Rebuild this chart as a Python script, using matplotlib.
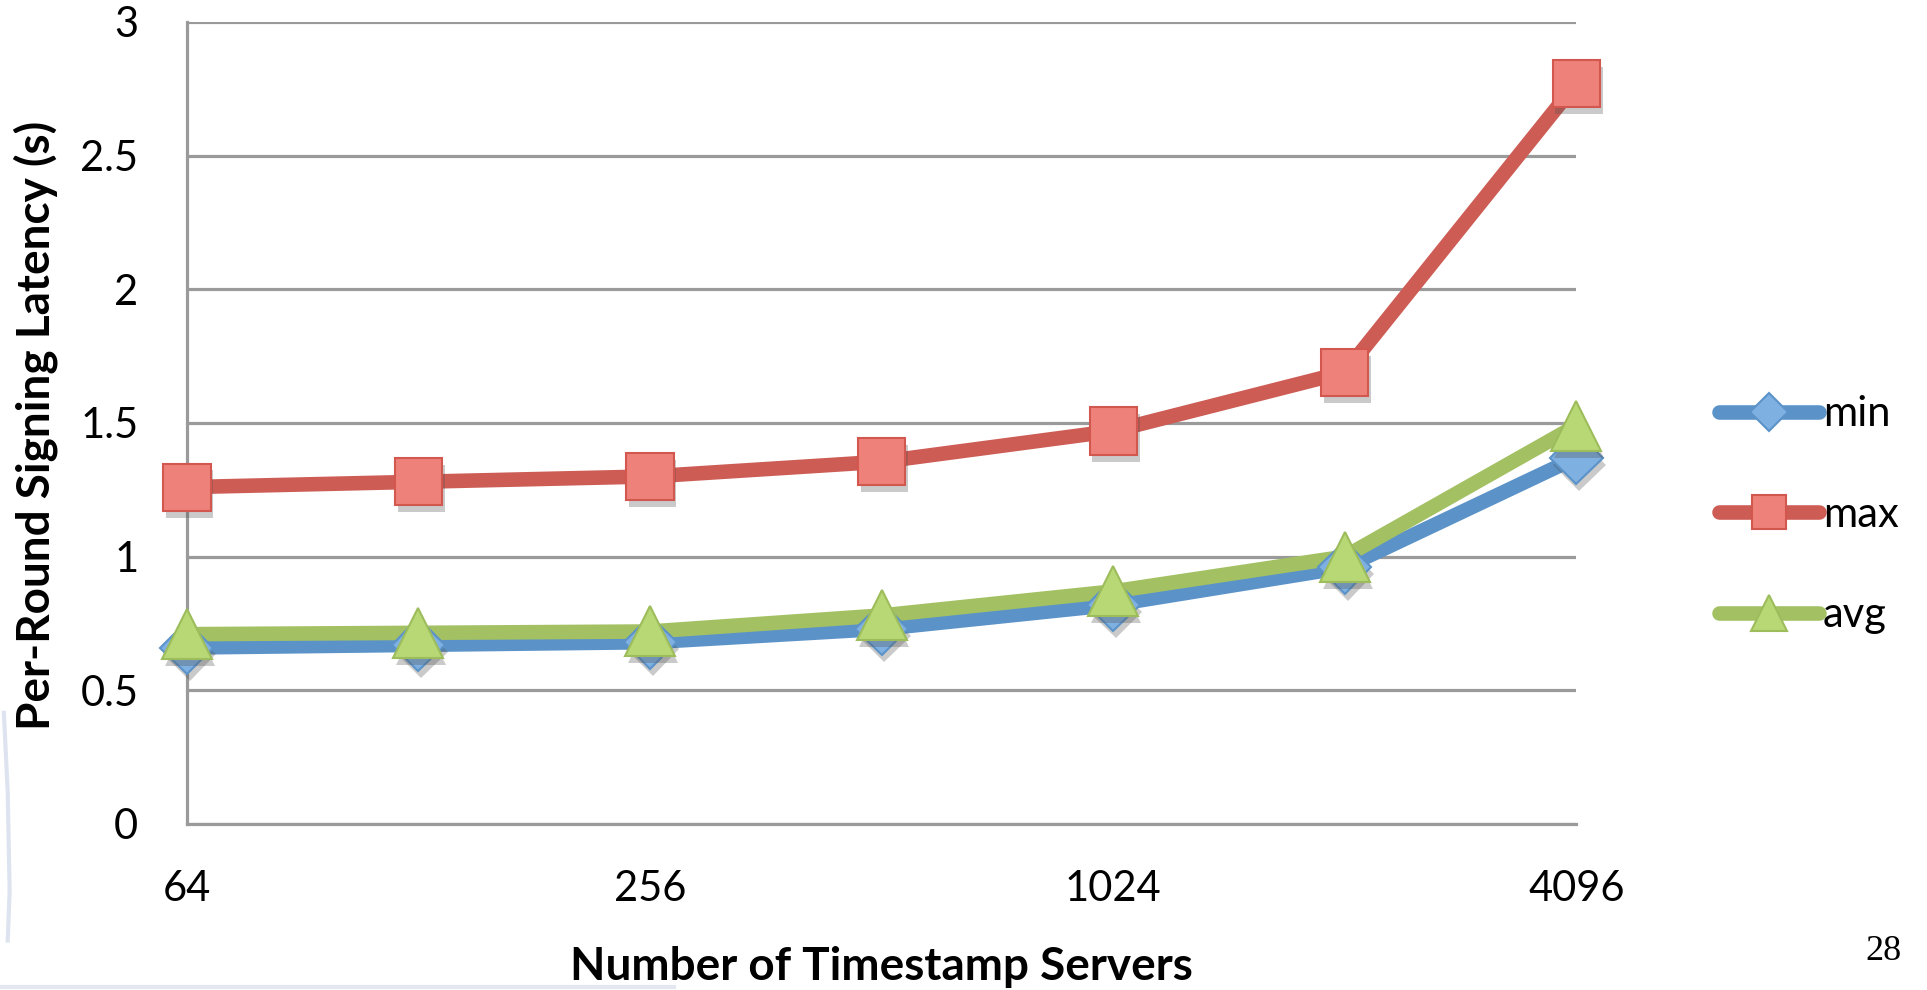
import matplotlib
matplotlib.use("Agg")
import matplotlib.pyplot as plt
import matplotlib.patheffects as pe
from matplotlib.lines import Line2D

servers = ["64", "128", "256", "512", "1024", "2048", "4096"]
shown_labels = ["64", "", "256", "", "1024", "", "4096"]
lat_min = [0.66, 0.67, 0.68, 0.73, 0.82, 0.96, 1.37]
lat_max = [1.26, 1.28, 1.30, 1.355, 1.47, 1.69, 2.77]
lat_avg = [0.71, 0.715, 0.72, 0.78, 0.87, 1.00, 1.49]

plt.rcParams['font.family'] = ['Lato', 'DejaVu Sans']

fig = plt.figure(figsize=(19.27, 9.90), dpi=100)
ax = fig.add_axes([0.097, 0.1677, 0.721, 0.8101])

x = list(range(len(servers)))
shadow = [pe.SimplePatchShadow(offset=(2, -5), shadow_rgbFace='#505050', alpha=0.3,
                               linewidth=0), pe.Normal()]

series = [
    (lat_min, 'min', '#5B93C8', 'D', '#7FB0E2', '#5B93C8', 27),
    (lat_max, 'max', '#CD5C55', 's', '#EE827A', '#D2574F', 34),
    (lat_avg, 'avg', '#A3C163', '^', '#B7D874', '#9DBC5C', 36),
]

handles = []
for vals, name, col, mk, fc, ec, ms in series:
    ax.plot(x, vals, color=col, lw=10.5, solid_capstyle='round',
            solid_joinstyle='round', clip_on=False, zorder=3)
    ax.plot(x, vals, ls='none', marker=mk, ms=ms, mfc=fc, mec=ec, mew=1.5,
            clip_on=False, zorder=4, path_effects=shadow)
    handles.append(Line2D([], [], color=col, lw=10.5, solid_capstyle='round',
                          marker=mk, ms=ms * 0.72, mfc=fc, mec=ec, mew=1.5))

ax.set_xlim(0, 6)
ax.set_ylim(0, 3)
ax.set_yticks([0, 0.5, 1, 1.5, 2, 2.5, 3])
ax.set_yticklabels(['0', '0.5', '1', '1.5', '2', '2.5', '3'])
ax.set_xticks(x)
ax.set_xticklabels(shown_labels)
ax.tick_params(axis='both', length=0, labelsize=30)
ax.tick_params(axis='x', pad=33)
ax.tick_params(axis='y', pad=35)

ax.grid(axis='y', color='#9a9a9a', lw=2.3)
ax.set_axisbelow(True)
for s in ['top', 'right']:
    ax.spines[s].set_visible(False)
ax.spines['left'].set_color('#9a9a9a')
ax.spines['left'].set_linewidth(2.3)
ax.spines['bottom'].set_color('#9a9a9a')
ax.spines['bottom'].set_linewidth(2.3)

ax.set_xlabel('Number of Timestamp Servers', fontsize=33, fontweight='bold')
ax.xaxis.set_label_coords(0.5, -0.178)
ax.xaxis.label.set_va('center')
ax.set_ylabel('Per-Round Signing Latency (s)', fontsize=33, fontweight='bold')
ax.yaxis.set_label_coords(-0.109, 0.4975)
ax.yaxis.label.set_va('center')

fig.legend(handles=handles, labels=['min', 'max', 'avg'], loc='center left',
           bbox_to_anchor=(0.881, 0.48), frameon=False, fontsize=30,
           handlelength=2.4, handletextpad=0.1, labelspacing=1.5, borderpad=0)

fig.text(1883 / 1927, 1 - 952 / 990, '28', family='Liberation Serif', fontsize=26,
         ha='center', va='center')

# faint slide decoration at the left and bottom edges
fig.add_artist(Line2D([0.002, 0.004, 0.005, 0.004], [0.28, 0.2, 0.1, 0.05],
                      color='#dde4ef', lw=3, transform=fig.transFigure))
fig.add_artist(Line2D([0.0, 0.35], [0.003, 0.003], color='#e3e8f0', lw=3,
                      transform=fig.transFigure))

fig.savefig('out.png', dpi=100)
